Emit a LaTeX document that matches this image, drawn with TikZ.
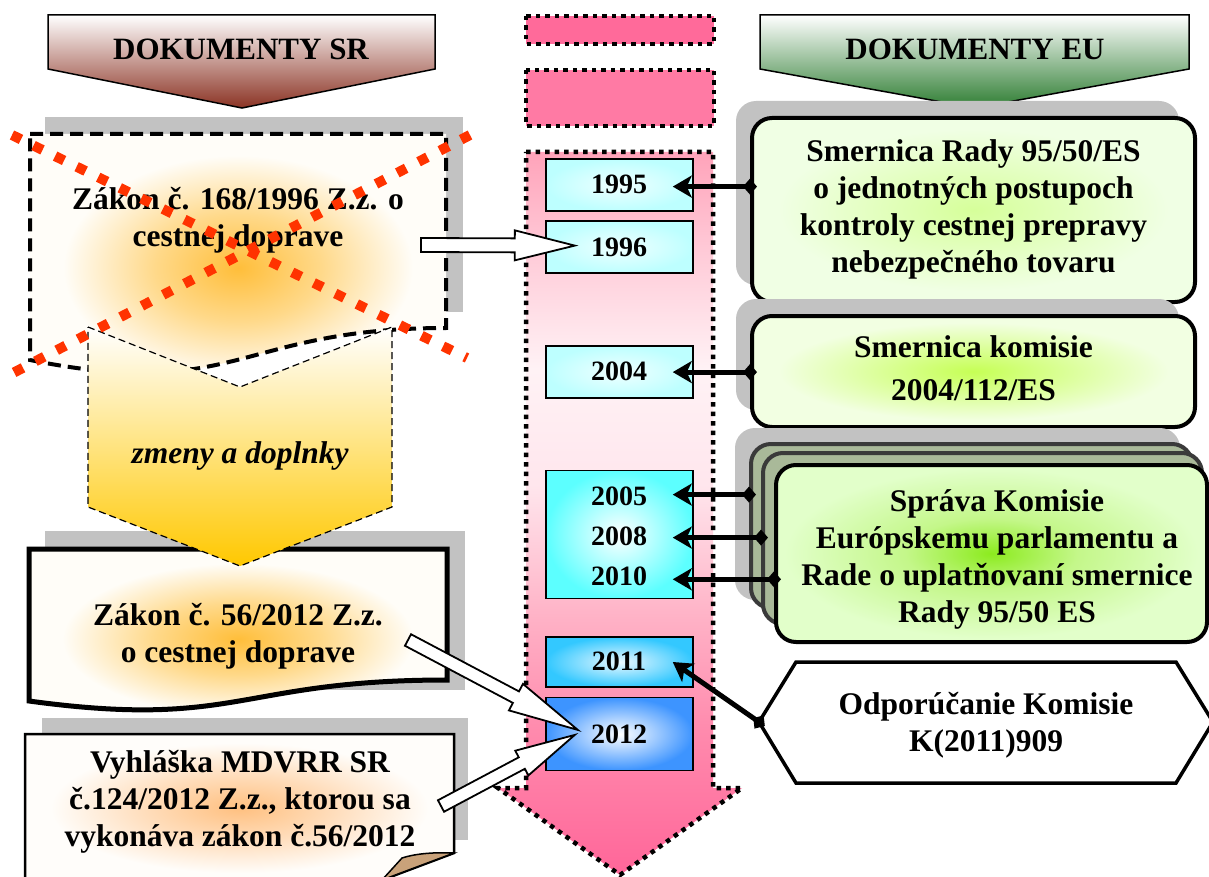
\documentclass[tikz,border=0pt]{standalone}
\usepackage{fontspec}
\setmainfont{Liberation Serif}
\usetikzlibrary{calc,arrows.meta}

\definecolor{shadowgrey}{HTML}{C2C2C2}
\definecolor{hdrR}{HTML}{8B3324}
\definecolor{hdrG}{HTML}{2E7D32}
\definecolor{goldA}{HTML}{FFC800}
\definecolor{redX}{HTML}{FF3300}
\definecolor{zC}{HTML}{FFBE3A}
\definecolor{zM}{HTML}{FFD98A}
\definecolor{zO}{HTML}{FFFDF8}
\definecolor{vC}{HTML}{FFC080}
\definecolor{vM}{HTML}{FFDDBB}
\definecolor{vO}{HTML}{FFFDFA}
\definecolor{e1C}{HTML}{D6FF9A}
\definecolor{e1O}{HTML}{F0FFE4}
\definecolor{e2C}{HTML}{C6FF55}
\definecolor{e2O}{HTML}{F2FFE2}
\definecolor{e3C}{HTML}{8CEB1E}
\definecolor{e3M}{HTML}{C4F78A}
\definecolor{e3O}{HTML}{E2FFCA}
\definecolor{layerF}{HTML}{A9B999}
\definecolor{layerD}{HTML}{3A3A3A}
\definecolor{cyA}{HTML}{BDFFFF}
\definecolor{cyAi}{HTML}{F0FFFF}
\definecolor{cyB}{HTML}{5CFFFF}
\definecolor{cyC}{HTML}{33C8FF}
\definecolor{cyCi}{HTML}{EAF8FF}
\definecolor{cyD}{HTML}{3D94FF}
\definecolor{rA}{HTML}{FF6A9A}
\definecolor{rB}{HTML}{FF7AA4}
\definecolor{tl0}{HTML}{FF6699}
\definecolor{tl1}{HTML}{FF8AAD}
\definecolor{tl2}{HTML}{FFB3C7}
\definecolor{tl3}{HTML}{FFE6ED}
\definecolor{tl4}{HTML}{FFF2F5}
\definecolor{tl5}{HTML}{FFCBD8}
\definecolor{tl6}{HTML}{FFA3BA}
\definecolor{foldtan}{HTML}{C9A27A}

\pgfdeclareradialshading{glowZ}{\pgfpoint{0bp}{0bp}}{color(0bp)=(zC); color(10bp)=(zM); color(21bp)=(zO); color(50bp)=(zO)}
\pgfdeclareradialshading{glowV}{\pgfpoint{0bp}{0bp}}{color(0bp)=(vC); color(11bp)=(vM); color(22bp)=(vO); color(50bp)=(vO)}
\pgfdeclareradialshading{glowE1}{\pgfpoint{0bp}{0bp}}{color(0bp)=(e1C); color(22bp)=(e1O); color(50bp)=(e1O)}
\pgfdeclareradialshading{glowE2}{\pgfpoint{0bp}{0bp}}{color(0bp)=(e2C); color(22bp)=(e2O); color(50bp)=(e2O)}
\pgfdeclareradialshading{glowE3}{\pgfpoint{0bp}{0bp}}{color(0bp)=(e3C); color(10bp)=(e3M); color(24bp)=(e3O); color(50bp)=(e3O)}
\pgfdeclareverticalshading{tline}{100bp}{color(0bp)=(tl0); color(25bp)=(tl0); color(35bp)=(tl1); color(43bp)=(tl2); color(52bp)=(tl3); color(60bp)=(tl4); color(68bp)=(tl5); color(75bp)=(tl6); color(100bp)=(tl6)}

\newcommand{\blockarrow}[5]{%
  \coordinate (bah) at ($(#2)!#5!(#1)$);
  \draw[blockarr] ($(#1)!#3!90:(#2)$) -- ($(bah)!#3!-90:(#1)$) -- ($(bah)!#4!-90:(#1)$) -- (#2)
    -- ($(bah)!#4!90:(#1)$) -- ($(bah)!#3!90:(#1)$) -- ($(#1)!#3!-90:(#2)$) -- cycle;
}

\begin{document}
\begin{tikzpicture}[x=1pt,y=-1pt,
  txt/.style={font=\fontsize{31.5}{37}\selectfont\bfseries, align=center, inner sep=0pt},
  yr/.style={font=\fontsize{28}{32}\selectfont\bfseries, inner sep=0pt},
  hdr/.style={font=\fontsize{31}{37}\selectfont\bfseries, inner sep=0pt},
  conn/.style={line width=5pt, arrows={Diamond[length=14pt,width=16pt]-Stealth[length=19pt,width=22pt,inset=5pt]}},
  blockarr/.style={draw=black, line width=1.8pt, fill=white, line join=miter},
  yearbox/.style={draw=black, line width=1.5pt, inner sep=0pt, minimum width=147pt},
  eubox/.style={draw=black, line width=4pt, rounded corners=20pt, inner sep=0pt, align=center,
                font=\fontsize{31.5}{37}\selectfont\bfseries},
  layerbox/.style={draw=layerD, line width=4pt, rounded corners=20pt, fill=layerF, inner sep=0pt},
  shadowc/.style={fill=shadowgrey, rounded corners=20pt},
  tldots/.style={line width=4.5pt, dash pattern=on 4.5pt off 5pt},
  redx/.style={draw=redX, line width=10pt, dash pattern=on 10pt off 14pt}
]
\useasboundingbox (0,0) rectangle (1209,877);
\fill[white] (0,0) rectangle (1209,877);

% ---------- headers ----------
\path[draw=black, line width=1.5pt, top color=white, bottom color=hdrR]
  (48,15) -- (435,15) -- (435,69) -- (242,108) -- (48,69) -- cycle;
\node[hdr] (hdrSR) at (241,52) {\strut DOKUMENTY SR};
\path[draw=black, line width=1.5pt, top color=white, bottom color=hdrG]
  (760,15) -- (1189,15) -- (1189,69) -- (975,108) -- (760,69) -- cycle;
\node[hdr] (hdrEU) at (975,52) {\strut DOKUMENTY EU};

% ---------- left column ----------
\fill[shadowgrey] (45,117) rectangle (463,312);
\path[shade, shading=glowZ, draw=black, line width=4pt, dash pattern=on 13pt off 7pt]
  (30,134) -- (446,134) -- (446,328) .. controls (238,328) and (238,402) .. (30,360) -- cycle;
\node[txt] (zk168) at (238,221) {\strut Zákon č. 168/1996 Z.z. o\\cestnej doprave\strut};

\fill[shadowgrey] (45,531) rectangle (465,690);
\path[shade, shading=glowZ, draw=black, line width=5pt]
  (29,549) -- (447,549) -- (447,680) .. controls (238,680) and (238,729.5) .. (29,701) -- cycle;
\node[txt] (zk56) at (238,637) {\strut Zákon č. 56/2012 Z.z.\\o cestnej doprave\strut};

\path[draw=black, line width=1.2pt, dash pattern=on 7pt off 4pt, top color=white, bottom color=goldA]
  (88,327) -- (240,387) -- (392,327) -- (392,507) -- (240,566) -- (88,507) -- cycle;
\node[txt, font=\fontsize{31.5}{37}\selectfont\bfseries\itshape] (zmeny) at (240,455.6) {\strut zmeny a doplnky};

\fill[shadowgrey] (42,718) rectangle (468,840);
\path[shade, shading=glowV, draw=black, line width=2.5pt]
  (25,734) -- (454,734) -- (454,853) -- (377,882) -- (25,882) -- cycle;
\filldraw[fill=foldtan, draw=black, line width=1.5pt]
  (454,853) .. controls (432,852) and (414,854) .. (402,858) -- (382,880) -- cycle;
\node[txt] (vyhl) at (240,801.6) {\strut Vyhláška MDVRR SR\\č.124/2012 Z.z., ktorou sa\\vykonáva zákon č.56/2012\strut};

\draw[redx] (12,135) -- (467,358);
\draw[redx] (470,135) -- (13,373);

% ---------- timeline ----------
\path[draw=black, tldots, fill=rA] (526,16) rectangle (714,44);
\path[draw=black, tldots, fill=rB] (526,70) rectangle (714,126);
\path[draw=black, tldots, shade, shading=tline]
  (526,152) -- (713,152) -- (713,788) -- (742,788) -- (620,875) -- (498,788) -- (526,788) -- cycle;

\node[yearbox, minimum height=52pt, inner color=cyAi, outer color=cyA] (yb1995) at (619.5,185) {};
\node[yearbox, minimum height=52pt, inner color=cyAi, outer color=cyA] (yb1996) at (619.5,247) {};
\node[yearbox, minimum height=52pt, inner color=cyAi, outer color=cyA] (yb2004) at (619.5,372) {};
\node[yearbox, minimum height=128pt, inner color=white, outer color=cyB] (yb0510) at (619.5,534.5) {};
\node[yearbox, minimum height=50pt, inner color=cyCi, outer color=cyC] (yb2011) at (619.5,662) {};
\node[yearbox, minimum height=73pt, inner color=white, outer color=cyD] (yb2012) at (619.5,734) {};

\node[yr] (t1995) at (619,187.6) {\strut 1995};
\node[yr] (t1996) at (619,249.6) {\strut 1996};
\node[yr] (t2004) at (619,373.6) {\strut 2004};
\node[yr] (t2005) at (619,498.6) {\strut 2005};
\node[yr] (t2008) at (619,538.6) {\strut 2008};
\node[yr] (t2010) at (619,579.3) {\strut 2010};
\node[yr] (t2011) at (619,664.3) {\strut 2011};
\node[yr] (t2012) at (619,736.9) {\strut 2012};

% ---------- EU column ----------
\fill[shadowc] (736,101) rectangle (1179,285);
\node[eubox, minimum width=443pt, minimum height=184pt, shade, shading=glowE1] (eu1) at (973.5,210)
  {\strut Smernica Rady 95/50/ES\\o jednotných postupoch\\kontroly cestnej prepravy\\nebezpečného tovaru\strut};

\fill[shadowc] (736,299) rectangle (1179,410);
\node[eubox, minimum width=443pt, minimum height=111pt, shade, shading=glowE2] (eu2) at (973.5,371.5)
  {\strut Smernica komisie\\[6.4pt]2004/112/ES\strut};

\fill[shadowc] (735,428) rectangle (1180,600);
\node[layerbox, minimum width=441pt, minimum height=164pt] (eu3a) at (971.5,526) {};
\node[layerbox, minimum width=439pt, minimum height=171pt] (eu3b) at (982.5,538.5) {};
\node[eubox, minimum width=431pt, minimum height=177pt, shade, shading=glowE3] (eu3) at (991.5,553.5) {};
\node[txt] (eu3t) at (997,559.3) {\strut Správa Komisie\\Európskemu parlamentu a\\Rade o uplatňovaní smernice\\Rady 95/50 ES\strut};

\draw[draw=black, line width=3.5pt, fill=white]
  (759,722) -- (796,662) -- (1176,662) -- (1213,722) -- (1176,783) -- (796,783) -- cycle;
\coordinate (odpW) at (759,722);
\node[txt] (odp) at (986,726) {\strut Odporúčanie Komisie\\K(2011)909\strut};

% ---------- connectors ----------
\draw[conn] ($(eu1.west |- t1995)+(7,-1)$) -- ($(yb1995.east |- t1995)+(-21,-1)$);
\draw[conn] ($(eu2.west |- t2004)+(7,-1.5)$) -- ($(yb2004.east |- t2004)+(-21,-1.5)$);
\draw[conn] ($(eu3a.west |- t2005)+(7,-4)$) -- ($(yb0510.east |- t2005)+(-21,-4)$);
\draw[conn] ($(eu3b.west |- t2008)+(7,-1)$) -- ($(yb0510.east |- t2008)+(-21,-1)$);
\draw[conn] ($(eu3.west |- t2010)+(7,0)$) -- ($(yb0510.east |- t2010)+(-21,0)$);
\draw[conn] ($(odpW)+(5.8,4)$) -- ($(yb2011.east)+(-21,0)$);

% ---------- block arrows ----------
\coordinate (a1s) at (421,245);
\coordinate (a1e) at ($(t1996.west)+(-16,-4)$);
\blockarrow{a1s}{a1e}{7pt}{15pt}{60pt}

\coordinate (a2s) at (408,640);
\coordinate (a2e) at ($(t2012.west)+(-13,-7)$);
\blockarrow{a2s}{a2e}{6.5pt}{15pt}{70pt}

\coordinate (a3s) at (441,806);
\coordinate (a3e) at ($(t2012.west)+(-16,-2)$);
\blockarrow{a3s}{a3e}{6.5pt}{14pt}{60pt}
\end{tikzpicture}
\end{document}
